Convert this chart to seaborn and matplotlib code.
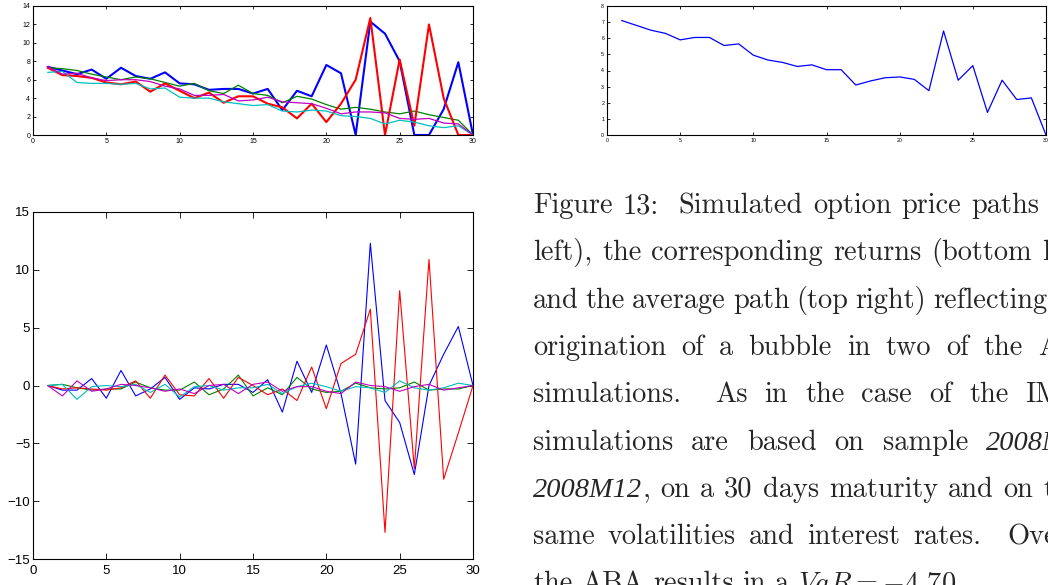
import re
import matplotlib
matplotlib.use('Agg')
import numpy as np
import pandas as pd
import seaborn as sns
import matplotlib.pyplot as plt

# ---- data ----
days = list(range(1, 31))

price_blue = [7.4, 7.0, 6.6, 7.1, 6.1, 7.3, 6.4, 6.1, 6.8, 5.6, 5.5, 4.9, 5.0, 5.0, 4.5,
              5.0, 2.7, 4.8, 4.2, 7.6, 6.7, 0.0, 12.3, 11.0, 8.0, 0.0, 0.0, 2.8, 7.9, 0.0]
price_green = [7.3, 7.2, 7.0, 6.6, 6.3, 6.0, 6.3, 6.1, 5.7, 5.3, 5.6, 4.8, 4.5, 5.4, 4.5,
               4.3, 3.5, 4.2, 3.9, 3.3, 2.8, 3.0, 2.8, 2.5, 2.3, 2.6, 2.2, 1.9, 1.6, 0.0]
price_red = [7.3, 6.5, 6.4, 6.2, 5.7, 5.5, 5.8, 4.7, 5.6, 4.8, 4.0, 4.6, 3.5, 4.2, 4.2,
             3.4, 3.0, 1.8, 3.4, 1.4, 3.4, 6.0, 12.7, 0.0, 8.2, 1.0, 12.0, 4.0, 0.0, 0.0]
price_cyan = [6.8, 6.9, 5.7, 5.6, 5.6, 5.5, 5.6, 5.0, 5.1, 4.1, 4.0, 4.0, 3.6, 3.4, 3.2,
              3.3, 2.6, 2.5, 2.7, 2.6, 2.1, 2.0, 1.8, 1.2, 1.6, 1.4, 1.0, 0.8, 1.0, 0.0]
price_magenta = [7.4, 6.6, 6.7, 6.2, 5.9, 6.0, 6.0, 5.8, 5.3, 5.0, 4.3, 4.3, 4.4, 3.7, 3.8,
                 4.1, 3.6, 3.5, 3.4, 2.9, 2.3, 2.5, 2.5, 2.4, 1.8, 1.7, 1.8, 1.3, 1.2, 0.0]

avg_path = [7.1, 6.8, 6.5, 6.3, 5.9, 6.05, 6.05, 5.55, 5.65, 4.95, 4.65, 4.5, 4.25, 4.35, 4.05,
            4.05, 3.1, 3.35, 3.55, 3.6, 3.45, 2.75, 6.45, 3.4, 4.3, 1.4, 3.4, 2.2, 2.3, 0.0]

ret_blue = [0, -0.4, -0.4, 0.6, -1.1, 1.3, -0.9, -0.3, 0.7, -1.2, -0.2, -0.3, 0.1, 0.1, -0.6,
            0.5, -2.3, 2.1, -0.6, 3.5, -0.7, -6.8, 12.3, -1.3, -3.2, -7.7, 0.0, 2.7, 5.1, 0.0]
ret_green = [0, 0.1, -0.2, -0.4, -0.3, -0.3, 0.3, -0.2, -0.4, -0.4, 0.3, -0.8, -0.3, 0.9, -0.9,
             -0.2, -0.8, 0.7, -0.3, -0.6, -0.5, 0.2, -0.2, -0.3, -0.2, 0.3, -0.4, -0.3, -0.3, 0.0]
ret_red = [0, -0.3, -0.2, -0.3, -0.4, -0.2, 0.4, -1.1, 0.9, -0.8, -0.9, 0.6, -1.1, 0.7, 0.0,
           -0.8, -0.3, -1.3, 1.6, -2.0, 1.9, 2.7, 6.6, -12.7, 8.2, -7.2, 10.9, -8.1, -4.1, 0.0]
ret_cyan = [0, 0.1, -1.2, -0.1, 0.0, -0.1, 0.1, -0.6, 0.1, -1.0, -0.1, 0.0, -0.4, -0.2, -0.2,
            0.1, -0.7, -0.1, 0.2, -0.1, -0.5, -0.1, -0.2, -0.6, 0.4, -0.2, -0.4, -0.2, 0.2, 0.0]
ret_magenta = [0, -0.9, 0.4, -0.5, -0.3, 0.1, 0.0, -0.2, -0.5, -0.3, -0.7, 0.0, 0.1, -0.7, 0.1,
               0.3, -0.5, -0.1, -0.1, -0.5, -0.7, 0.3, 0.0, -0.1, -0.5, -0.1, 0.1, -0.4, -0.2, 0.0]

series_names = ['blue', 'green', 'red', 'cyan', 'magenta']
colors = {'blue': '#0000ff', 'green': '#008000', 'red': '#ff0000',
          'cyan': '#00bfbf', 'magenta': '#bf00bf'}

caption_lines = [
    "Figure 13: Simulated option price paths (top",
    "left), the corresponding returns (bottom left)",
    "and the average path (top right) reflecting the",
    "origination of a bubble in two of the ABA",
    "simulations. As in the case of the IMA, the",
    "simulations are based on sample _2008M1-_",
    "_2008M12_, on a 30 days maturity and on the",
    "same volatilities and interest rates. Overall,",
    "the ABA results in a $VaR=-4.70$",
]
caption_gaps = [10, 10, 7, 15, 17, 18, 10, 13, 9]

prices = pd.DataFrame({'day': days * 5,
                       'value': price_blue + price_green + price_red + price_cyan + price_magenta,
                       'sim': sum([[s] * 30 for s in series_names], [])})
returns = pd.DataFrame({'day': days * 5,
                        'value': ret_blue + ret_green + ret_red + ret_cyan + ret_magenta,
                        'sim': sum([[s] * 30 for s in series_names], [])})
avg = pd.DataFrame({'day': days, 'value': avg_path})

sns.set_style('ticks')
plt.rcParams['font.family'] = ['Liberation Sans', 'DejaVu Sans']
plt.rcParams['mathtext.fontset'] = 'cm'

W, H = 1048, 585
fig = plt.figure(figsize=(W / 100, H / 100), dpi=100)
fig.patch.set_facecolor('white')


def matlab_axes(ax, xlim, ylim, xt, yt, fs, tl, xpad=2):
    ax.set_xlim(*xlim)
    ax.set_ylim(*ylim)
    ax.set_xticks(xt)
    ax.set_yticks(yt)
    ax.set_xlabel('')
    ax.set_ylabel('')
    ax.tick_params(direction='in', top=True, right=True, labelsize=fs,
                   length=tl, width=0.6, pad=2, colors='black')
    ax.tick_params(axis='x', pad=xpad)
    for sp in ax.spines.values():
        sp.set_visible(True)
        sp.set_color('black')
        sp.set_linewidth(0.8)
    leg = ax.get_legend()
    if leg is not None:
        leg.remove()


# top left: price paths
ax1 = fig.add_axes([33 / W, 1 - 135 / H, 440 / W, 129 / H])
for s in series_names:
    lw = 1.5 if s in ('blue', 'red') else 0.9
    sns.lineplot(data=prices[prices.sim == s], x='day', y='value', color=colors[s],
                 linewidth=lw, ax=ax1)
matlab_axes(ax1, (0, 30), (0, 14), range(0, 31, 5), range(0, 15, 2), 5, 2.5)

# top right: average path
ax2 = fig.add_axes([607 / W, 1 - 135 / H, 439 / W, 129 / H])
sns.lineplot(data=avg, x='day', y='value', color='#0000ff', linewidth=0.9, ax=ax2)
matlab_axes(ax2, (0, 30), (0, 8), range(0, 31, 5), range(0, 9), 3.8, 2.5)

# bottom left: returns
ax3 = fig.add_axes([33 / W, 1 - 559 / H, 440 / W, 347 / H])
for s in series_names:
    sns.lineplot(data=returns[returns.sim == s], x='day', y='value', color=colors[s],
                 linewidth=0.8, ax=ax3)
matlab_axes(ax3, (0, 30), (-15, 15), range(0, 31, 5), range(-15, 16, 5), 9.5, 4, xpad=4)

# caption, justified word by word like the typeset page
renderer = fig.canvas.get_renderer()
fsize = 20.4
for i, line in enumerate(caption_lines):
    yb = 213 + i * 47.3
    x = 533
    words = line.split(' ')
    for w in words:
        parts = []
        m = re.match(r'_(.+)_(.*)$', w)
        if m:
            parts.append((m.group(1), 'italic'))
            if m.group(2):
                parts.append((m.group(2), 'normal'))
        else:
            parts.append((w, 'normal'))
        for txt, style in parts:
            if style == 'italic':
                t = fig.text(x / W, 1 - yb / H, txt, fontsize=fsize, va='baseline',
                             family='Liberation Serif', style='italic')
            else:
                t = fig.text(x / W, 1 - yb / H, txt, fontsize=fsize, va='baseline',
                             family='cmr10')
            bb = t.get_window_extent(renderer)
            x = bb.x1
        g = caption_gaps[i]
        if w.endswith('.') or w.endswith(':'):
            g *= 2
        x += g

fig.savefig('out.png', dpi=100)
